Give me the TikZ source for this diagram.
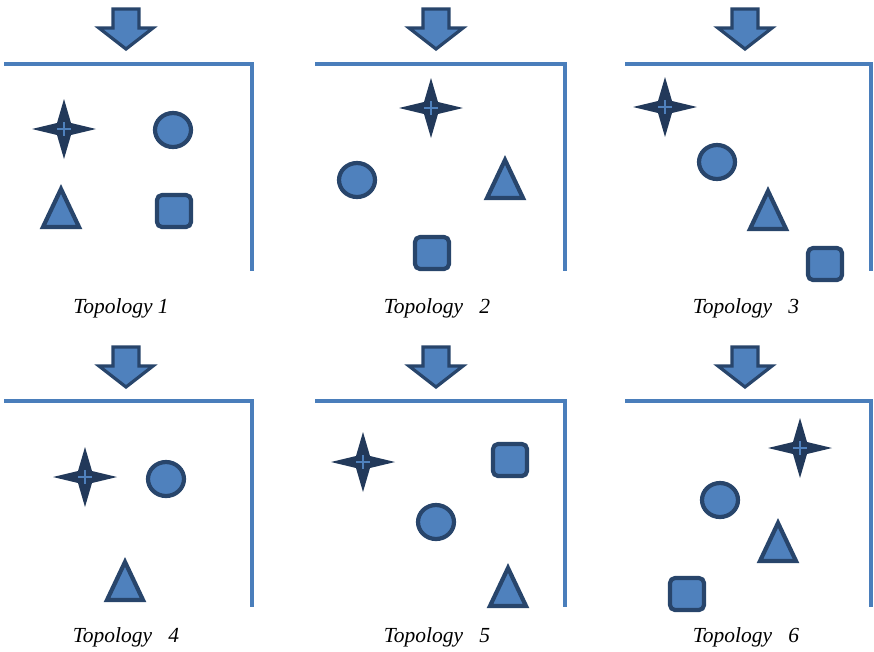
\documentclass[tikz,border=0pt]{standalone}
\usepackage{fontspec}
\setmainfont{Liberation Serif}
\begin{document}
\begin{tikzpicture}[x=1pt,y=-1pt,
  panel/.style={draw=lineblue,line width=4pt},
  shp/.style={draw=darkblue,fill=fillblue,line width=4.2pt,line join=round},
  lbl/.style={font=\fontsize{21.5}{24}\selectfont\itshape,inner sep=0pt},
  pics/downarrow/.style={code={
    \draw[shp,line width=3.2pt,line join=miter] (-13,0) -- (13,0) -- (13,19) -- (27,19) -- (0,40) -- (-27,19) -- (-13,19) -- cycle;}},
  pics/sparkle/.style={code={
    \fill[starblue] (32,0) -- (7,6) -- (0,30) -- (-7,6) -- (-32,0) -- (-7,-6) -- (0,-30) -- (7,-6) -- cycle;
    \fill[starblue] (0,0) circle (7);
    \draw[fillblue,line width=1.2pt] (-7,0) -- (7,0) (0,-7) -- (0,7);}},
  pics/disc/.style={code={\draw[shp] (0,0) ellipse [x radius=18,y radius=17];}},
  pics/tri/.style={code={\draw[shp,line join=miter] (0,-19) -- (18,19) -- (-18,19) -- cycle;}},
  pics/sq/.style={code={\draw[shp,rounded corners=5pt] (-17,-16) rectangle (17,16);}}
]
\definecolor{lineblue}{HTML}{4A7EBB}
\definecolor{fillblue}{HTML}{4F81BD}
\definecolor{darkblue}{HTML}{28456B}
\definecolor{starblue}{HTML}{22395A}
\useasboundingbox (0,0) rectangle (874,651);
% panels
\foreach \xa/\xb in {4/252,315/565,625/871}{
  \draw[panel] (\xa,64) -- (\xb,64) -- (\xb,271);
  \draw[panel] (\xa,401) -- (\xb,401) -- (\xb,607);
}
% arrows
\foreach \xc in {126,436,745}{
  \pic at (\xc,9) {downarrow};
  \pic at (\xc,347) {downarrow};
}
% Topology 1
\pic at (64,129) {sparkle};
\pic at (173,130) {disc};
\pic at (61,208) {tri};
\pic at (174,211) {sq};
\node[lbl] (t1) at (121,308) {Topology 1};
% Topology 2
\pic at (431,108) {sparkle};
\pic at (357,180) {disc};
\pic at (505,179) {tri};
\pic at (432,253) {sq};
\node[lbl] (t2) at (437,308) {Topology\ \ \ 2};
% Topology 3
\pic at (665,107) {sparkle};
\pic at (717,162) {disc};
\pic at (768,210) {tri};
\pic at (825,264) {sq};
\node[lbl] (t3) at (746,308) {Topology\ \ \ 3};
% Topology 4
\pic at (85,477) {sparkle};
\pic at (166,479) {disc};
\pic at (125,581) {tri};
\node[lbl] (t4) at (126,637) {Topology\ \ \ 4};
% Topology 5
\pic at (363,462) {sparkle};
\pic at (436,522) {disc};
\pic at (508,587) {tri};
\pic at (510,460) {sq};
\node[lbl] (t5) at (437,637) {Topology\ \ \ 5};
% Topology 6
\pic at (800,448) {sparkle};
\pic at (720,500) {disc};
\pic at (778,542) {tri};
\pic at (687,594) {sq};
\node[lbl] (t6) at (746,637) {Topology\ \ \ 6};
\end{tikzpicture}
\end{document}
